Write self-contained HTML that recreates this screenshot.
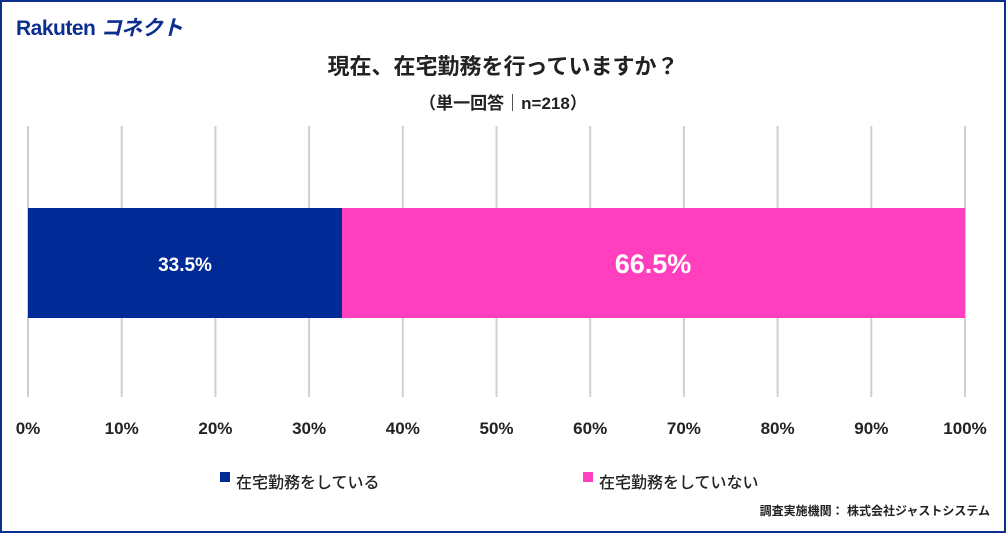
<!DOCTYPE html>
<html><head><meta charset="utf-8"><style>
body{margin:0;background:#fff}
#c{position:relative;width:1006px;height:533px;box-sizing:border-box;border:2px solid #0b2e8f;overflow:hidden;font-family:"Liberation Sans","Noto Sans CJK JP",sans-serif;font-weight:bold;color:#222}
.t{position:absolute;white-space:nowrap}
</style></head><body><div id="c">
<div class="t" style="left:14px;top:10px;font-size:21px;color:#0b2e8f;letter-spacing:-0.5px;font-weight:bold">Rakuten <span style="font-weight:bold;font-style:italic">コネクト</span></div>
<div class="t" style="left:0;width:1002px;text-align:center;top:47px;font-size:22px">現在、在宅勤務を行っていますか？</div>
<div class="t" style="left:0;width:1002px;text-align:center;top:87px;font-size:17px;font-weight:bold">（単一回答｜n=218）</div>
<svg class="t" style="left:-2px;top:-2px" width="1006" height="533">
<g stroke="#d0d0d0" stroke-width="2">
<line x1="28" y1="126" x2="28" y2="397"/><line x1="121.7" y1="126" x2="121.7" y2="397"/><line x1="215.4" y1="126" x2="215.4" y2="397"/><line x1="309.1" y1="126" x2="309.1" y2="397"/><line x1="402.8" y1="126" x2="402.8" y2="397"/><line x1="496.5" y1="126" x2="496.5" y2="397"/><line x1="590.2" y1="126" x2="590.2" y2="397"/><line x1="683.9" y1="126" x2="683.9" y2="397"/><line x1="777.6" y1="126" x2="777.6" y2="397"/><line x1="871.3" y1="126" x2="871.3" y2="397"/><line x1="965" y1="126" x2="965" y2="397"/>
</g>
<rect x="28" y="208" width="314" height="110" fill="#002b96"/>
<rect x="342" y="208" width="623" height="110" fill="#ff3fbe"/>
<text x="185" y="271" fill="#fff" font-size="19" text-anchor="middle" font-weight="bold" font-family="Liberation Sans">33.5%</text>
<text x="653" y="273" fill="#fff" font-size="27" text-anchor="middle" font-weight="bold" font-family="Liberation Sans">66.5%</text>
<g font-size="17" font-weight="bold" font-family="Liberation Sans" fill="#222" text-anchor="middle">
<text x="28" y="434">0%</text><text x="121.7" y="434">10%</text><text x="215.4" y="434">20%</text><text x="309.1" y="434">30%</text><text x="402.8" y="434">40%</text><text x="496.5" y="434">50%</text><text x="590.2" y="434">60%</text><text x="683.9" y="434">70%</text><text x="777.6" y="434">80%</text><text x="871.3" y="434">90%</text><text x="965" y="434">100%</text>
</g>
<rect x="220" y="472" width="10" height="10" fill="#002b96"/>
<rect x="583" y="472" width="10" height="10" fill="#ff3fbe"/>
</svg>
<div class="t" style="left:234px;top:467px;font-size:16px;font-weight:500;font-family:'Noto Sans CJK JP',sans-serif">在宅勤務をしている</div>
<div class="t" style="left:597px;top:467px;font-size:16px;font-weight:500;font-family:'Noto Sans CJK JP',sans-serif">在宅勤務をしていない</div>
<div class="t" style="right:14px;top:500px;font-size:12px">調査実施機関： 株式会社ジャストシステム</div>
</div></body></html>
